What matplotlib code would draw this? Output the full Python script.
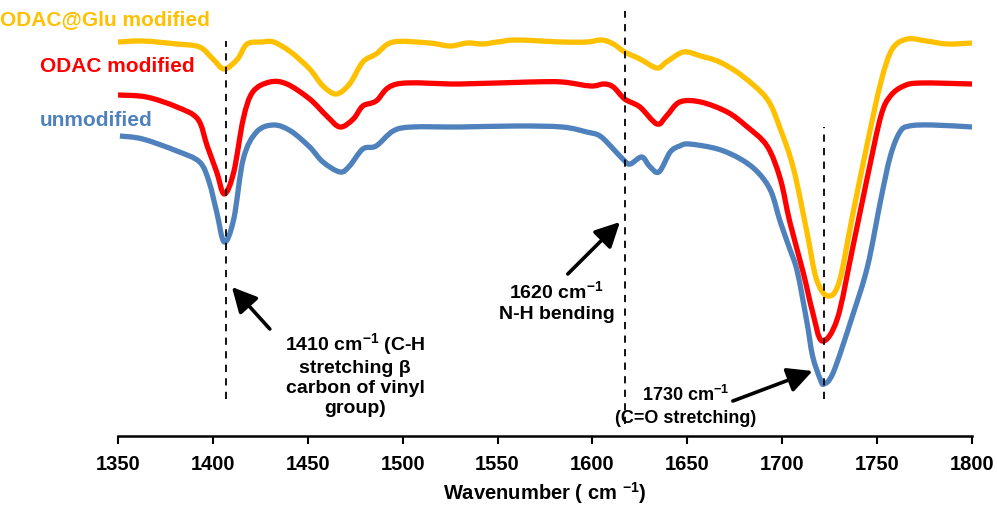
import matplotlib
matplotlib.use("Agg")
import matplotlib.pyplot as plt
from matplotlib.path import Path
from matplotlib.patches import PathPatch
import numpy as np

plt.rcParams['font.family'] = ['Liberation Sans', 'DejaVu Sans']
plt.rcParams['font.weight'] = 'bold'
plt.rcParams['mathtext.fontset'] = 'custom'
plt.rcParams['mathtext.rm'] = 'Liberation Sans:bold'
plt.rcParams['mathtext.it'] = 'Liberation Sans:bold:italic'
plt.rcParams['mathtext.bf'] = 'Liberation Sans:bold'

# FTIR spectra (transmittance, arbitrary units)
wn_unmod = [1351, 1363, 1381, 1393, 1398, 1402, 1406, 1411, 1416, 1423, 1432, 1441,
            1451, 1458, 1467, 1472, 1479, 1486, 1495, 1505, 1530, 1560, 1584, 1597,
            1604, 1611, 1617, 1620, 1626, 1630, 1635, 1641, 1646, 1651, 1666, 1678,
            1687, 1694, 1699, 1704, 1708, 1713, 1716, 1720, 1722, 1727, 1737, 1745,
            1752, 1757, 1762, 1767, 1779, 1800]
t_unmod = [303, 300, 288, 277, 257, 227, 197, 220, 280, 307, 314, 308,
           292, 277, 267, 273, 290, 293, 308, 312, 312, 313, 312, 307,
           303, 290, 278, 275, 282, 273, 267, 287, 293, 295, 290, 280,
           267, 248, 217, 190, 167, 117, 83, 60, 55, 67, 123, 173,
           240, 283, 307, 313, 314, 312]

wn_odac = [1350, 1365, 1381, 1392, 1397, 1402, 1406, 1411, 1416, 1421, 1430, 1439,
           1451, 1460, 1467, 1474, 1479, 1486, 1497, 1530, 1567, 1584, 1599, 1606,
           1611, 1617, 1625, 1634, 1639, 1646, 1657, 1671, 1681, 1692, 1699, 1704,
           1711, 1716, 1721, 1729, 1737, 1745, 1752, 1757, 1764, 1773, 1800]
t_odac = [344, 342, 332, 320, 293, 267, 245, 267, 320, 347, 357, 355,
          340, 323, 312, 320, 333, 338, 355, 355, 357, 357, 353, 355,
          352, 340, 332, 315, 323, 337, 337, 327, 313, 293, 260, 217,
          167, 127, 98, 120, 190, 263, 323, 343, 353, 356, 355]

wn_glu = [1350, 1363, 1381, 1393, 1400, 1406, 1413, 1418, 1426, 1432, 1441, 1451,
          1458, 1465, 1472, 1479, 1486, 1495, 1514, 1525, 1534, 1542, 1550, 1560,
          1584, 1597, 1605, 1611, 1617, 1625, 1634, 1639, 1648, 1657, 1667, 1679,
          1692, 1699, 1706, 1713, 1718, 1724, 1730, 1737, 1745, 1752, 1758, 1766,
          1776, 1787, 1800]
t_glu = [397, 398, 395, 392, 380, 370, 380, 395, 397, 397, 387, 370,
         353, 345, 355, 377, 385, 397, 396, 393, 396, 395, 397, 399,
         397, 397, 399, 395, 387, 380, 371, 377, 387, 383, 377, 363,
         340, 310, 270, 207, 160, 143, 157, 223, 297, 357, 390, 400,
         398, 395, 396]

series_names = ['unmodified', 'ODAC modified', 'ODAC@Glu modified']
series_colors = ['#4F81BD', '#FF0000', '#FFC000']

# peak markers: wavenumber, lower and upper end of the dashed line
peak_wn = [1407, 1617, 1722]
peak_lo = [40, 15, 40]
peak_hi = [398, 428, 312]


def smooth_path(x, y):
    # Excel-style "smoothed line": cubic Bezier through every data point
    p = np.column_stack([x, y]).astype(float)
    ext = np.vstack([p[0], p, p[-1]])
    verts = [p[0]]
    codes = [Path.MOVETO]
    for i in range(len(p) - 1):
        p0, p1, p2, p3 = ext[i], ext[i + 1], ext[i + 2], ext[i + 3]
        verts += [p1 + (p2 - p0) / 6, p2 - (p3 - p1) / 6, p2]
        codes += [Path.CURVE4] * 3
    return Path(verts, codes)


fig = plt.figure(figsize=(9.97, 5.10), dpi=100)
ax = fig.add_axes([118 / 997, 73 / 510, 854 / 997, 437 / 510])

for wn, t, c in zip([wn_unmod, wn_odac, wn_glu], [t_unmod, t_odac, t_glu], series_colors):
    ax.add_patch(PathPatch(smooth_path(wn, t), fill=False, edgecolor=c, lw=3.8,
                           joinstyle='round', capstyle='butt'))

for x, lo, hi in zip(peak_wn, peak_lo, peak_hi):
    ax.plot([x, x], [lo, hi], color='black', lw=1.3, ls=(0, (4, 3.5)))

ax.set_xlim(1350, 1800)
ax.set_ylim(3, 440)
ax.set_xticks(range(1350, 1801, 50))
for s in ['top', 'right', 'left']:
    ax.spines[s].set_visible(False)
ax.spines['bottom'].set_linewidth(1.8)
ax.set_yticks([])
ax.tick_params(axis='x', direction='out', length=6, width=1.5, pad=7, labelsize=14.5)
ax.set_xlabel('Wavenumber ( cm $^{-1}$)', fontsize=14.5, fontweight='bold', labelpad=4)

# series labels
label_pos = [(1309, 320), (1309, 373), (1288, 420)]
for name, c, (x, y) in zip(series_names, series_colors, label_pos):
    ax.text(x, y, name, color=c, fontsize=15, fontweight='bold', ha='left', va='center',
            clip_on=False)

arrow = dict(arrowstyle='-|>,head_length=0.75,head_width=0.38', lw=2.6, color='black',
             shrinkA=0, shrinkB=0, mutation_scale=20)

ax.text(1475, 66, '1410 cm$^{-1}$ (C-H\nstretching β\ncarbon of vinyl\ngroup)',
        fontsize=14, fontweight='bold', ha='center', va='center', linespacing=1.25)
ax.annotate('', xy=(1410, 152), xytext=(1430, 110), arrowprops=arrow)

ax.text(1581, 138, '1620 cm$^{-1}$\nN-H bending',
        fontsize=14, fontweight='bold', ha='center', va='center', linespacing=1.3)
ax.annotate('', xy=(1614.5, 217), xytext=(1587, 165), arrowprops=arrow)

ax.text(1649, 34, '1730 cm$^{-1}$\n(C=O stretching)',
        fontsize=13, fontweight='bold', ha='center', va='center', linespacing=1.35)
ax.annotate('', xy=(1716, 68), xytext=(1674, 38), arrowprops=arrow)

fig.savefig('out.png', dpi=100)
